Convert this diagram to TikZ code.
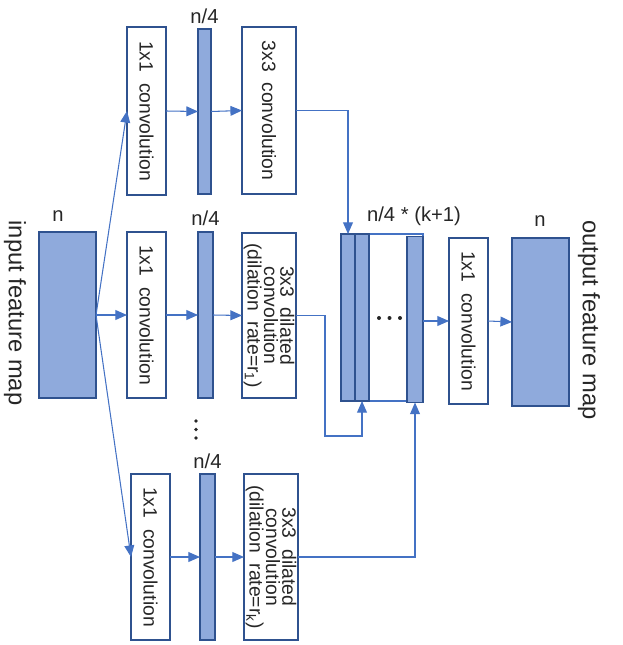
\documentclass[tikz,border=0pt]{standalone}
\usepackage{fontspec}
\setmainfont{Liberation Sans}
\usetikzlibrary{arrows.meta}
\definecolor{fillb}{HTML}{8FAADC}
\definecolor{edgeb}{HTML}{2F528F}
\definecolor{arrb}{HTML}{4472C4}
\definecolor{ink}{HTML}{262626}
\begin{document}
\begin{tikzpicture}[x=0.02cm,y=-0.02cm,
  fm/.style={draw=edgeb, fill=fillb, line width=0.7pt, inner sep=0pt, outer sep=0pt},
  bx/.style={draw=edgeb, fill=white, line width=0.7pt, inner sep=0pt, outer sep=0pt},
  txt/.style={rotate=-90, inner sep=0pt, align=center, text=ink, font=\fontsize{11}{9.3}\selectfont},
  lbl/.style={inner sep=0pt, text=ink, font=\fontsize{11.5}{13}\selectfont},
  big/.style={rotate=-90, inner sep=0pt, text=ink, font=\fontsize{13.5}{15}\selectfont},
  arr/.style={draw=arrb, line width=0.6pt, -{Triangle[length=6.6pt,width=5.6pt]}},
  dot/.style={fill=ink, draw=none}]
\useasboundingbox (0,0) rectangle (622,645);
% input / output feature maps
\node[fm, minimum width=57*0.02cm, minimum height=166*0.02cm] (inp) at (67.5,315) {};
\node[fm, minimum width=57*0.02cm, minimum height=168*0.02cm] (out) at (540.5,322) {};
\node[big] (inpl) at (15,313) {input feature map};
\node[big] (outl) at (589,320) {output feature map};
\node[lbl] (nin) at (58,216) {n};
\node[lbl] (nout) at (540,221) {n};
% top branch
\node[bx, minimum width=39*0.02cm, minimum height=168*0.02cm] (c1a) at (146.5,111) {};
\node[txt] (t1a) at (c1a.center) {1x1\ \ convolution};
\node[fm, minimum width=13*0.02cm, minimum height=165*0.02cm] (b1) at (204.5,111.5) {};
\node[lbl] (n1) at (204.5,16) {n/4};
\node[bx, minimum width=54*0.02cm, minimum height=167*0.02cm] (d1) at (269,110.5) {};
\node[txt] (td1) at (d1.center) {3x3\ \ convolution};
% middle branch
\node[bx, minimum width=39*0.02cm, minimum height=166*0.02cm] (c1b) at (146.5,315) {};
\node[txt] (t1b) at (c1b.center) {1x1\ \ convolution};
\node[fm, minimum width=15*0.02cm, minimum height=166*0.02cm] (b2) at (205.5,315) {};
\node[lbl] (n2) at (205.5,218) {n/4};
\node[bx, minimum width=54*0.02cm, minimum height=165*0.02cm] (d2) at (269,315.5) {};
\node[txt] (td2) at (d2.center) {3x3\ \ dilated\\convolution\\(dilation\ \ rate=r\textsubscript{1})};
% bottom branch
\node[bx, minimum width=39*0.02cm, minimum height=166*0.02cm] (c1c) at (150.5,557) {};
\node[txt] (t1c) at (c1c.center) {1x1\ \ convolution};
\node[fm, minimum width=15*0.02cm, minimum height=166*0.02cm] (b3) at (207.5,557) {};
\node[lbl] (n3) at (207.5,461) {n/4};
\node[bx, minimum width=54*0.02cm, minimum height=166*0.02cm] (d3) at (271,557) {};
\node[txt] (td3) at (d3.center) {3x3\ \ dilated\\convolution\\(dilation\ \ rate=r\textsubscript{k})};
% vertical dots
\fill[dot] (196,421) circle (1.8);
\fill[dot] (196,429.5) circle (1.8);
\fill[dot] (196,438) circle (1.8);
% concat block
\node[bx, minimum width=82*0.02cm, minimum height=167*0.02cm, draw=arrb] (cat) at (382,317.5) {};
\node[fm, minimum width=14*0.02cm, minimum height=167*0.02cm] (k1) at (348,317.5) {};
\node[fm, minimum width=14*0.02cm, minimum height=167*0.02cm] (k2) at (362,317.5) {};
\node[fm, minimum width=16*0.02cm, minimum height=166*0.02cm] (k3) at (415,319.5) {};
\node[lbl] (ncat) at (414,216) {n/4 * (k+1)};
\fill[dot] (379,318) circle (2);
\fill[dot] (389.5,318) circle (2);
\fill[dot] (400,318) circle (2);
% final conv
\node[bx, minimum width=39*0.02cm, minimum height=166*0.02cm] (c5) at (468.5,321) {};
\node[txt] (t5) at (c5.center) {1x1\ \ convolution};
% connectors
\draw[arr] (inp.east) -- (c1a.west);
\draw[arr] (inp.east) -- (c1b.west);
\draw[arr] (inp.east) -- (c1c.west);
\draw[arr] (c1a.east) -- (b1.west);
\draw[arr] (b1.east) -- (d1.west);
\draw[arr] (c1b.east) -- (b2.west);
\draw[arr] (b2.east) -- (d2.west);
\draw[arr] (c1c.east) -- (b3.west);
\draw[arr] (b3.east) -- (d3.west);
\draw[arr] (d1.east) -| (k1.north);
\draw[arr] (d2.east) -| (325,436) -| (k2.south);
\draw[arr] (d3.east) -| (k3.south);
\draw[arr] (k3.east |- c5.west) -- (c5.west);
\draw[arr] (c5.east) -- (out.west);
\end{tikzpicture}
\end{document}
